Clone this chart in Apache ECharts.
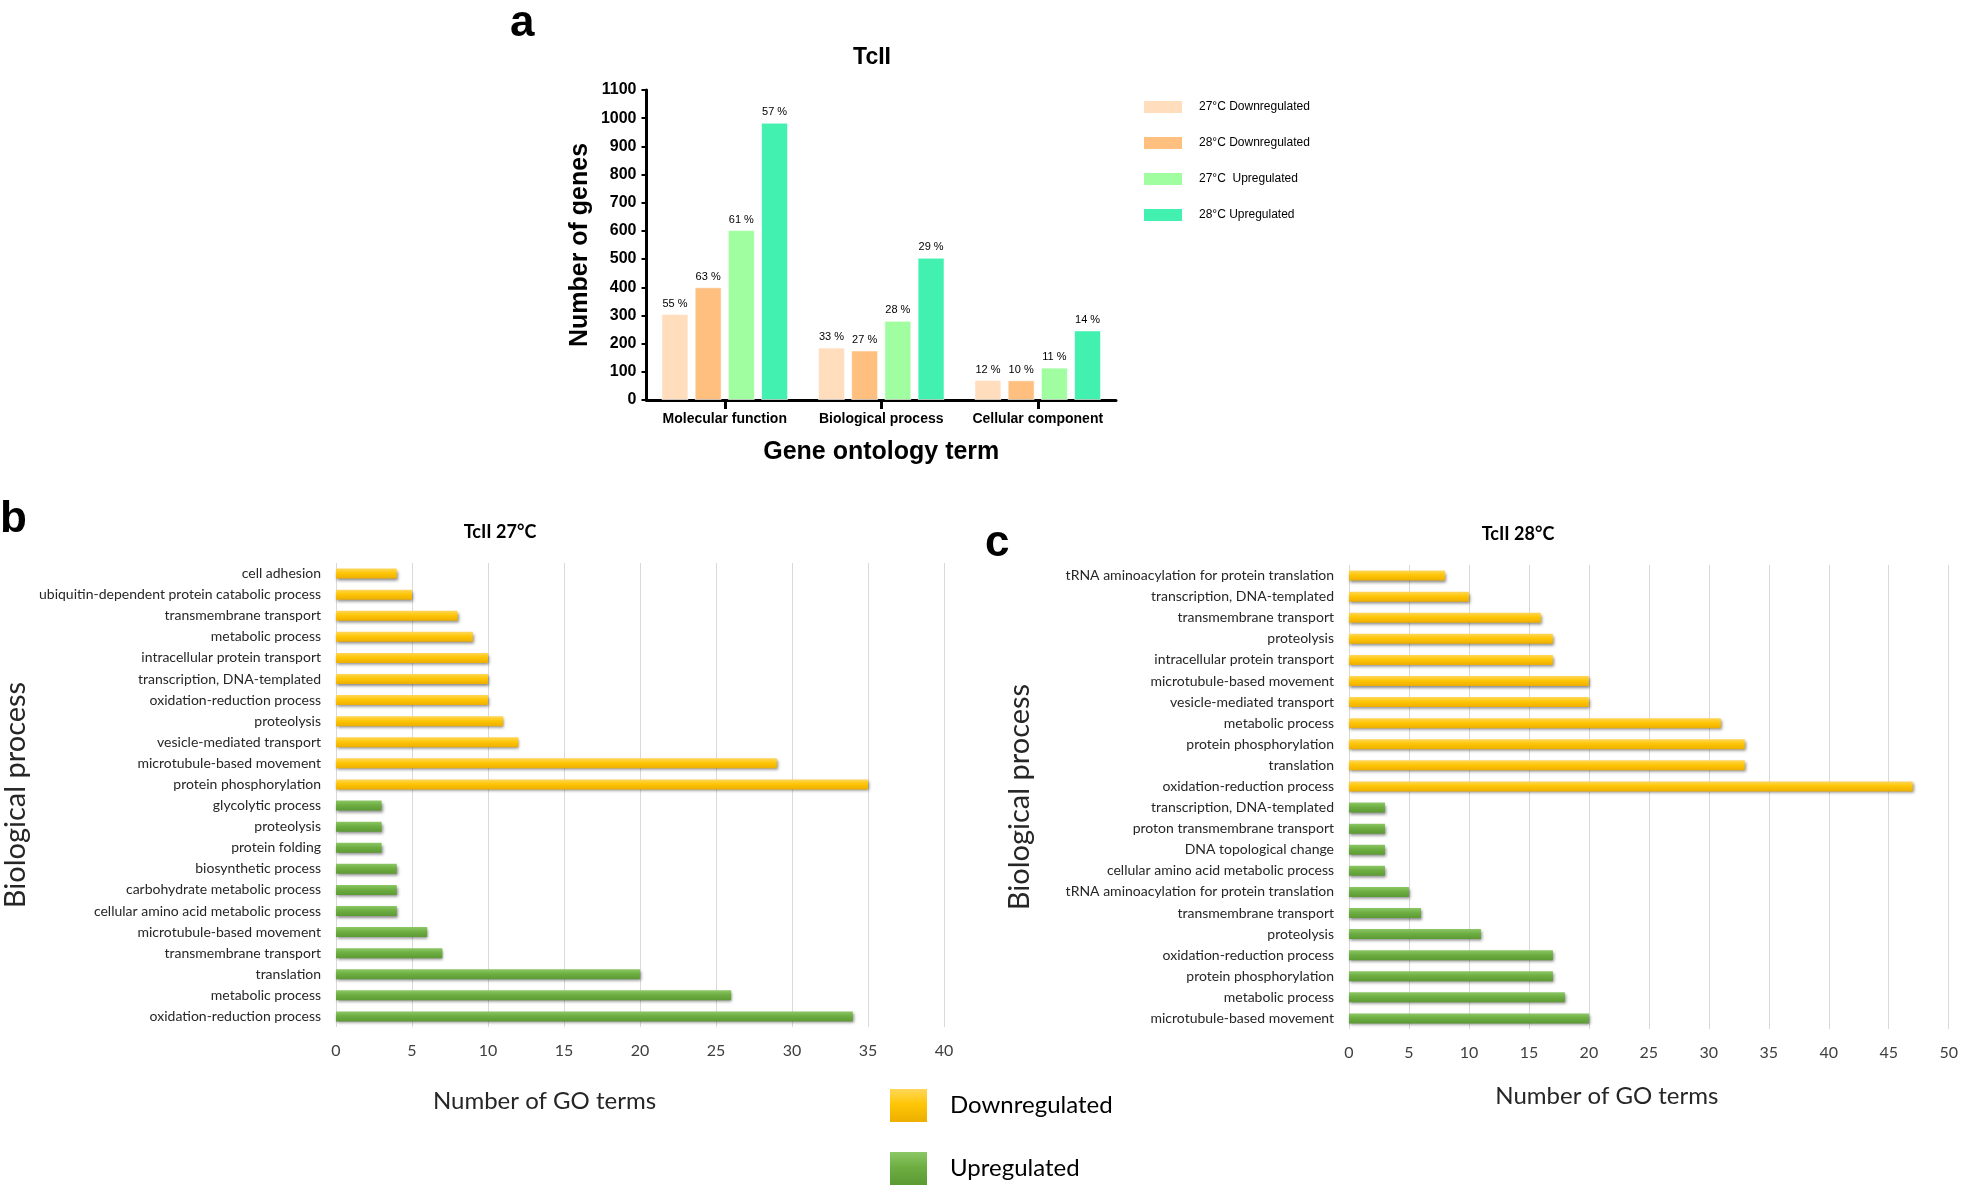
<!DOCTYPE html>
<html><head><meta charset="utf-8">
<script src="https://cdn.jsdelivr.net/npm/echarts@6/dist/echarts.min.js"></script>
<style>html,body{margin:0;padding:0;background:#fff}#c{width:1961px;height:1191px}</style>
</head><body><div id="c"></div><script>
// ---- Panel a data ----
const goCategories = ['Molecular function', 'Biological process', 'Cellular component'];
const seriesNamesA = ['27°C Downregulated', '28°C Downregulated', '27°C  Upregulated', '28°C Upregulated'];
const down27 = [305, 186, 71];
const down28 = [400, 176, 70];
const up27 = [603, 281, 115];
const up28 = [984, 505, 247];
const pctDown27 = ['55 %', '33 %', '12 %'];
const pctDown28 = ['63 %', '27 %', '10 %'];
const pctUp27 = ['61 %', '28 %', '11 %'];
const pctUp28 = ['57 %', '29 %', '14 %'];
const colorsA = ['#FFDDBD', '#FFBF7F', '#A0FEA0', '#42F0B0'];

// ---- Panel b data (TcII 27°C), top to bottom ----
const b27DownLabels = ['cell adhesion', 'ubiquitin-dependent protein catabolic process', 'transmembrane transport', 'metabolic process', 'intracellular protein transport', 'transcription, DNA-templated', 'oxidation-reduction process', 'proteolysis', 'vesicle-mediated transport', 'microtubule-based movement', 'protein phosphorylation'];
const b27DownValues = [4, 5, 8, 9, 10, 10, 10, 11, 12, 29, 35];
const b27UpLabels = ['glycolytic process', 'proteolysis', 'protein folding', 'biosynthetic process', 'carbohydrate metabolic process', 'cellular amino acid metabolic process', 'microtubule-based movement', 'transmembrane transport', 'translation', 'metabolic process', 'oxidation-reduction process'];
const b27UpValues = [3, 3, 3, 4, 4, 4, 6, 7, 20, 26, 34];

// ---- Panel c data (TcII 28°C), top to bottom ----
const c28DownLabels = ['tRNA aminoacylation for protein translation', 'transcription, DNA-templated', 'transmembrane transport', 'proteolysis', 'intracellular protein transport', 'microtubule-based movement', 'vesicle-mediated transport', 'metabolic process', 'protein phosphorylation', 'translation', 'oxidation-reduction process'];
const c28DownValues = [8, 10, 16, 17, 17, 20, 20, 31, 33, 33, 47];
const c28UpLabels = ['transcription, DNA-templated', 'proton transmembrane transport', 'DNA topological change', 'cellular amino acid metabolic process', 'tRNA aminoacylation for protein translation', 'transmembrane transport', 'proteolysis', 'oxidation-reduction process', 'protein phosphorylation', 'metabolic process', 'microtubule-based movement'];
const c28UpValues = [3, 3, 3, 3, 5, 6, 11, 17, 17, 18, 20];

const yellowGrad = new echarts.graphic.LinearGradient(0, 0, 0, 1, [
  {offset: 0, color: '#FFD75A'}, {offset: 0.45, color: '#FFC606'}, {offset: 1, color: '#EDAE00'}]);
const greenGrad = new echarts.graphic.LinearGradient(0, 0, 0, 1, [
  {offset: 0, color: '#8CC866'}, {offset: 0.45, color: '#6EAE42'}, {offset: 1, color: '#5C9A34'}]);
const shadow = {shadowColor: 'rgba(0,0,0,0.45)', shadowBlur: 3, shadowOffsetX: 1, shadowOffsetY: 2};

const FA = 'Liberation Sans';
const FL = 'Lato';

function seriesA(name, vals, pct, color) {
  return {
    name: name, type: 'bar', xAxisIndex: 0, yAxisIndex: 0, data: vals,
    barWidth: 27, barGap: '23%',
    itemStyle: {color: color, borderColor: 'rgba(255,255,255,0.6)', borderWidth: 1},
    label: {show: true, position: 'top', distance: 5, fontFamily: FA, fontSize: 11, color: '#000',
      formatter: p => pct[p.dataIndex]}
  };
}
function hSeries(name, idx, downVals, upVals, isDown) {
  const data = isDown ? downVals.concat(upVals.map(() => null)) : downVals.map(() => null).concat(upVals);
  return {
    name: name, type: 'bar', xAxisIndex: idx, yAxisIndex: idx, data: data,
    barWidth: 10, barGap: '-100%',
    itemStyle: Object.assign({color: isDown ? yellowGrad : greenGrad}, shadow)
  };
}
function hxAxis(idx, max, gap, pad) {
  return {
    type: 'value', gridIndex: idx, min: 0, max: max, interval: 5,
    axisLine: {show: false}, axisTick: {show: false},
    splitLine: {show: true, lineStyle: {color: '#D9D9D9', width: 1}},
    axisLabel: {fontFamily: FL, fontSize: 16, color: '#404040', margin: 16},
    name: 'Number of GO terms', nameLocation: 'middle', nameGap: gap,
    nameTextStyle: {fontFamily: FL, fontSize: 24, color: '#262626', padding: [0, pad, 0, 0]}
  };
}
function hyAxis(idx, labels, gap) {
  return {
    type: 'category', gridIndex: idx, data: labels, inverse: true,
    axisLine: {show: false}, axisTick: {show: false},
    axisLabel: {fontFamily: FL, fontSize: 14, color: '#262626', margin: 15, interval: 0},
    name: 'Biological process', nameLocation: 'middle', nameGap: gap,
    nameTextStyle: {fontFamily: FL, fontSize: 29, color: '#262626'}
  };
}

const option = {
  animation: false,
  backgroundColor: '#ffffff',
  title: [
    {text: 'TcII', left: 872, top: 46, textAlign: 'center', padding: 0,
     textStyle: {fontFamily: FA, fontWeight: 'bold', fontSize: 23, color: '#000'}},
    {text: 'TcII 27°C', left: 500, top: 523, textAlign: 'center', padding: 0,
     textStyle: {fontFamily: FL, fontWeight: 'bold', fontSize: 18, color: '#000'}},
    {text: 'TcII 28°C', left: 1518, top: 525, textAlign: 'center', padding: 0,
     textStyle: {fontFamily: FL, fontWeight: 'bold', fontSize: 18, color: '#000'}}
  ],
  graphic: [
    {type: 'text', left: 510, top: 2, style: {text: 'a', font: 'bold 44px "Liberation Sans"', fill: '#000'}},
    {type: 'text', left: 0, top: 498, style: {text: 'b', font: 'bold 44px "Liberation Sans"', fill: '#000'}},
    {type: 'text', left: 985, top: 522, style: {text: 'c', font: 'bold 44px "Liberation Sans"', fill: '#000'}}
  ],
  legend: [
    {data: seriesNamesA, orient: 'vertical', left: 1144, top: 101, itemWidth: 38, itemHeight: 12, itemGap: 24,
     icon: 'rect', padding: 0, itemStyle: {borderWidth: 0},
     textStyle: {fontFamily: FA, fontSize: 12, color: '#000', padding: [0, 0, 0, 12]}},
    {data: ['Downregulated', 'Upregulated'], orient: 'vertical', left: 890, top: 1089, itemWidth: 37, itemHeight: 33,
     itemGap: 30, icon: 'rect', padding: 0,
     textStyle: {fontFamily: FL, fontSize: 24, color: '#000', padding: [0, 0, 0, 18]}}
  ],
  grid: [
    {left: 646.5, top: 90, width: 469.5, height: 310},
    {left: 335, top: 563, width: 609, height: 464},
    {left: 1349, top: 565, width: 602, height: 464}
  ],
  xAxis: [
    {type: 'category', gridIndex: 0, data: goCategories,
     axisLine: {lineStyle: {color: '#000', width: 3}},
     axisTick: {show: true, alignWithLabel: true, length: 9, lineStyle: {width: 3, color: '#000'}},
     axisLabel: {fontFamily: FA, fontWeight: 'bold', fontSize: 14, color: '#000', margin: 12, interval: 0},
     name: 'Gene ontology term', nameLocation: 'middle', nameGap: 40,
     nameTextStyle: {fontFamily: FA, fontWeight: 'bold', fontSize: 25, color: '#000'}},
    hxAxis(1, 40, 62, 191),
    hxAxis(2, 50, 55, 84)
  ],
  yAxis: [
    {type: 'value', gridIndex: 0, min: 0, max: 1100, interval: 100,
     axisLine: {show: true, lineStyle: {color: '#000', width: 3}},
     axisTick: {show: true, length: 5, lineStyle: {width: 2, color: '#000'}},
     splitLine: {show: false},
     axisLabel: {fontFamily: FA, fontWeight: 'bold', fontSize: 16, color: '#000', margin: 10,
       formatter: v => String(v)},
     name: 'Number of genes', nameLocation: 'middle', nameGap: 54,
     nameTextStyle: {fontFamily: FA, fontWeight: 'bold', fontSize: 25, color: '#000'}},
    hyAxis(1, b27DownLabels.concat(b27UpLabels), 306),
    hyAxis(2, c28DownLabels.concat(c28UpLabels), 315)
  ],
  series: [
    seriesA(seriesNamesA[0], down27, pctDown27, colorsA[0]),
    seriesA(seriesNamesA[1], down28, pctDown28, colorsA[1]),
    seriesA(seriesNamesA[2], up27, pctUp27, colorsA[2]),
    seriesA(seriesNamesA[3], up28, pctUp28, colorsA[3]),
    hSeries('Downregulated', 1, b27DownValues, b27UpValues, true),
    hSeries('Upregulated', 1, b27DownValues, b27UpValues, false),
    hSeries('Downregulated', 2, c28DownValues, c28UpValues, true),
    hSeries('Upregulated', 2, c28DownValues, c28UpValues, false)
  ]
};
const chart = echarts.init(document.getElementById('c'), null, {renderer: 'canvas'});
chart.setOption(option);
</script></body></html>
